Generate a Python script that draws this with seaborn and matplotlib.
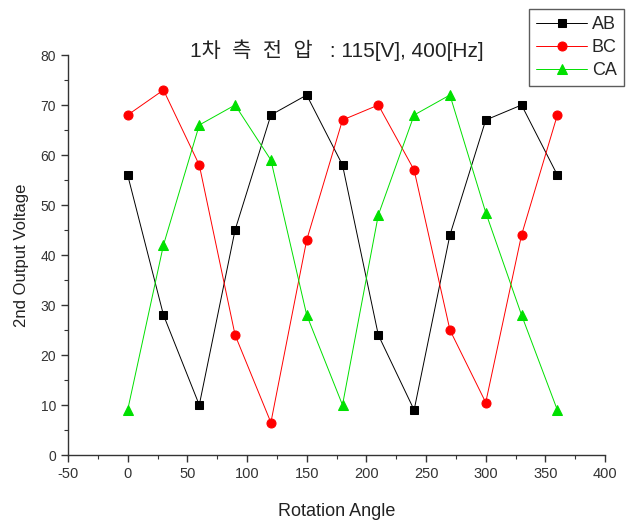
import matplotlib
matplotlib.use("Agg")
import matplotlib.pyplot as plt
from matplotlib.ticker import MultipleLocator
import seaborn as sns
import pandas as pd

angles = [0, 30, 60, 90, 120, 150, 180, 210, 240, 270, 300, 330, 360]
ab_values = [56, 28, 10, 45, 68, 72, 58, 24, 9, 44, 67, 70, 56]
bc_values = [68, 73, 58, 24, 6.5, 43, 67, 70, 57, 25, 10.5, 44, 68]
ca_values = [9, 42, 66, 70, 59, 28, 10, 48, 68, 72, 48.5, 28, 9]
series_names = ["AB", "BC", "CA"]
title_text = "1차  측  전  압   : 115[V], 400[Hz]"

sns.set_style("ticks")
plt.rcParams['font.family'] = ['Liberation Sans', 'Noto Sans CJK KR', 'DejaVu Sans']
plt.rcParams['axes.unicode_minus'] = False

df = pd.DataFrame({
    "angle": angles * 3,
    "voltage": ab_values + bc_values + ca_values,
    "series": [n for n in series_names for _ in angles],
})

styles = {
    "AB": ("#000000", "s", 6),
    "BC": ("#ff0000", "o", 6.5),
    "CA": ("#00e000", "^", 7.5),
}

fig = plt.figure(figsize=(6.26, 5.27), dpi=100)
ax = fig.add_axes([0.1086, 0.1366, 0.858, 0.759])

for name in series_names:
    color, marker, ms = styles[name]
    sub = df[df["series"] == name]
    sns.lineplot(data=sub, x="angle", y="voltage", ax=ax, color=color,
                 marker=marker, markersize=ms, markeredgecolor=color,
                 markerfacecolor=color, linewidth=0.7, label=name)

ax.set_xlim(-50, 400)
ax.set_ylim(0, 80)
ax.xaxis.set_major_locator(MultipleLocator(50))
ax.xaxis.set_minor_locator(MultipleLocator(25))
ax.yaxis.set_major_locator(MultipleLocator(10))
ax.yaxis.set_minor_locator(MultipleLocator(5))
ax.tick_params(which="major", length=5, width=1, colors="#333333")
ax.tick_params(axis="x", which="major", labelsize=10.5)
ax.tick_params(axis="y", which="major", labelsize=10)
ax.tick_params(which="minor", length=3, width=0.8, colors="#333333")
ax.set_xlabel("Rotation Angle", fontsize=13, color="#222222", labelpad=16)
ax.set_ylabel("2nd Output Voltage", fontsize=12, color="#222222", labelpad=8)
sns.despine(ax=ax)
for sp in ["left", "bottom"]:
    ax.spines[sp].set_color("#333333")
    ax.spines[sp].set_linewidth(1)

fig.text(336.5 / 626, 1 - 50 / 527, title_text, ha="center", va="center",
         fontsize=15, color="#222222")

leg = ax.legend(loc="upper right", bbox_to_anchor=(624 / 626, 1 - 9 / 527),
                bbox_transform=fig.transFigure, borderaxespad=0,
                fontsize=13, handlelength=2.8, frameon=True, fancybox=False,
                edgecolor="#333333", labelspacing=0.33, handletextpad=0.28,
                borderpad=0.4)
leg.get_frame().set_linewidth(1)

fig.savefig("out.png", dpi=100)
